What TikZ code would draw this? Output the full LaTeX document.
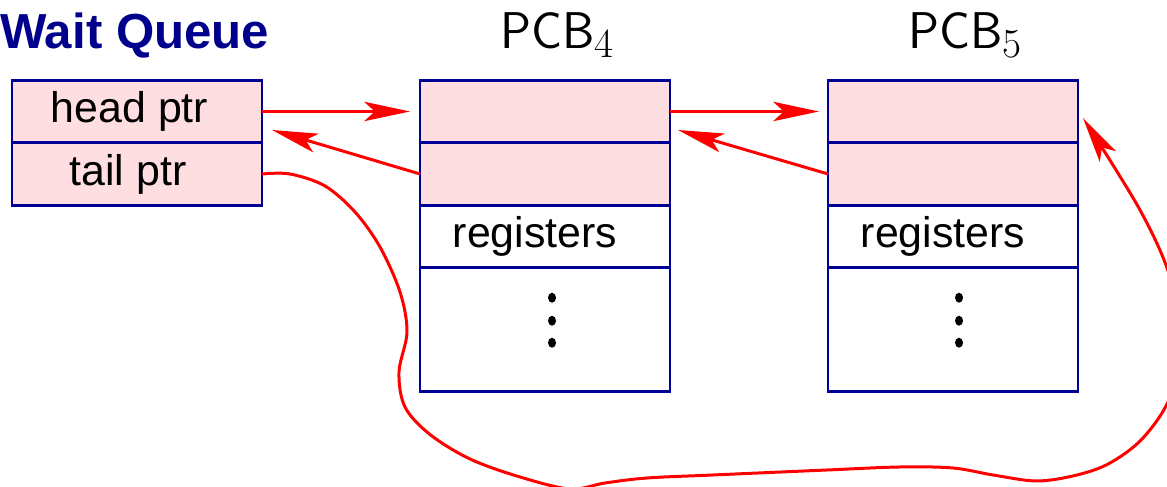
\documentclass[tikz,border=0pt]{standalone}
\usepackage{fontspec}
\newfontfamily\arialfont{Liberation Sans}
\usepackage{tikz}
\usetikzlibrary{arrows.meta, positioning}

\definecolor{pcbnavy}{RGB}{0,0,150}
\definecolor{titlenavy}{RGB}{0,0,140}
\definecolor{pcbpink}{RGB}{255,222,226}

\tikzset{
  cell/.style={draw=pcbnavy, line width=1.6pt, minimum width=5cm, minimum height=1.25cm,
    inner sep=0pt, outer sep=0pt, font=\arialfont\fontsize{24.4}{28}\selectfont},
  ptrcell/.style={cell, fill=pcbpink},
  link/.style={draw=red, line width=1.7pt, -{Stealth[length=26pt, width=11pt, inset=6pt]}},
  pcblabel/.style={anchor=base, inner sep=0pt, font=\sffamily\fontsize{29.4}{34}\selectfont}
}

\begin{document}
\begin{tikzpicture}
        \useasboundingbox (0, 0) rectangle (23.34, 9.74);
        % Labels
        \node [anchor=base west, inner sep=0pt, text=titlenavy,
            font=\arialfont\bfseries\fontsize{28}{32}\selectfont] (title) at (0, 8.76) {Wait Queue};
        \node [pcblabel] (pcb4-label) at (11.14, 8.76) {PCB\raisebox{-0.18cm}{\rmfamily\fontsize{23.5}{24}\selectfont 4}};
        \node [pcblabel] (pcb5-label) at (19.3, 8.76) {PCB\raisebox{-0.18cm}{\rmfamily\fontsize{23.5}{24}\selectfont 5}};
        % Wait queue
        \node [ptrcell] (wq-head) at (2.74, 7.51) {head ptr\hspace*{0.3cm}};
        \node [ptrcell, below=0pt of wq-head] (wq-tail) {tail ptr\hspace*{0.36cm}};
        % PCB 4
        \node [ptrcell] (pcb4-a) at (10.9, 7.51) {};
        \node [ptrcell, below=0pt of pcb4-a] (pcb4-b) {};
        \node [cell, below=0pt of pcb4-b] (pcb4-reg) {registers\hspace*{0.4cm}};
        \node [cell, below=0pt of pcb4-reg, minimum height=2.48cm] (pcb4-rest) {};
        % PCB 5
        \node [ptrcell] (pcb5-a) at (19.06, 7.51) {};
        \node [ptrcell, below=0pt of pcb5-a] (pcb5-b) {};
        \node [cell, below=0pt of pcb5-b] (pcb5-reg) {registers\hspace*{0.4cm}};
        \node [cell, below=0pt of pcb5-reg, minimum height=2.48cm] (pcb5-rest) {};
        % Dots
        \fill ([shift={(0.14, 0.64)}]pcb4-rest.center) ellipse (0.08 and 0.1);
        \fill ([shift={(0.14, 0.18)}]pcb4-rest.center) ellipse (0.08 and 0.1);
        \fill ([shift={(0.14, -0.26)}]pcb4-rest.center) ellipse (0.08 and 0.1);
        \fill ([shift={(0.12, 0.64)}]pcb5-rest.center) ellipse (0.08 and 0.1);
        \fill ([shift={(0.12, 0.18)}]pcb5-rest.center) ellipse (0.08 and 0.1);
        \fill ([shift={(0.12, -0.26)}]pcb5-rest.center) ellipse (0.08 and 0.1);
        % Links
        \coordinate (wq-back) at ([shift={(0.2, -0.37)}]wq-head.east);
        \coordinate (pcb4-back) at ([shift={(0.16, -0.37)}]pcb4-a.east);
        \coordinate (pcb5-in) at ([shift={(0.1, -0.13)}]pcb5-a.east);
        \draw [link, shorten >=0.2cm] (wq-head.east) -- (pcb4-a.west);
        \draw [link] (pcb4-b.west) -- (wq-back);
        \draw [link, shorten >=0.18cm] (pcb4-a.east) -- (pcb5-a.west);
        \draw [link] (pcb5-b.west) -- (pcb4-back);
        % Tail pointer
        \draw [link] plot [smooth, tension=0.55] coordinates {(wq-tail.east) (5.8, 6.26) (6.5, 6.02)
            (7.1, 5.5) (7.6, 4.8) (8.0, 3.9) (8.14, 3.1) (7.98, 2.3) (8.1, 1.6) (8.6, 1.05) (9.4, 0.56)
            (10.4, 0.2) (11.4, -0.04) (12.1, 0.08) (12.94, 0.18) (14.26, 0.24) (16.54, 0.34) (18.0, 0.4)
            (19.06, 0.38) (19.86, 0.24) (20.74, 0.12) (21.54, 0.24) (22.2, 0.48) (22.86, 0.98)
            (23.4, 1.8) (23.58, 2.94) (23.4, 4.2) (22.8, 5.54) (pcb5-in)};
    \end{tikzpicture}
\end{document}
